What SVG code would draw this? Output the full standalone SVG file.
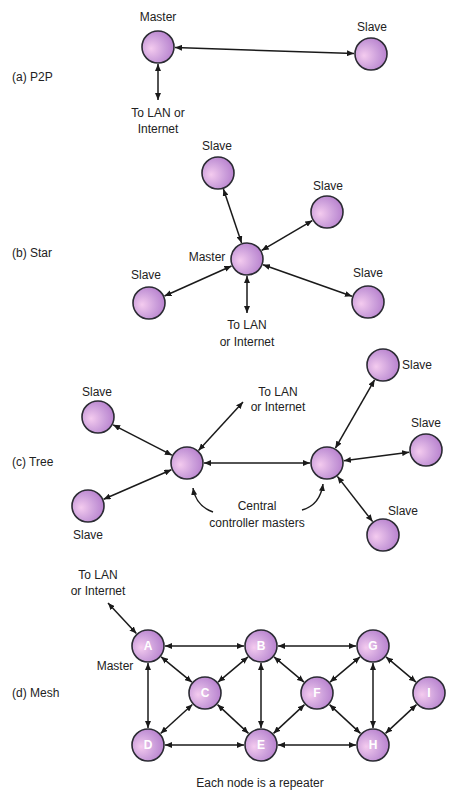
<svg xmlns="http://www.w3.org/2000/svg" width="476" height="797" viewBox="0 0 476 797">
<defs>
<radialGradient id="ball" cx="0.38" cy="0.55" r="0.7" fx="0.28" fy="0.55">
<stop offset="0" stop-color="#f4cbef"/>
<stop offset="0.55" stop-color="#cc9fdb"/>
<stop offset="1" stop-color="#b37acb"/>
</radialGradient>
<marker id="ah" viewBox="0 0 10 10" refX="10" refY="5" markerWidth="7" markerHeight="6" markerUnits="userSpaceOnUse" orient="auto-start-reverse" preserveAspectRatio="none">
<path d="M0,0 L10,5 L0,10 z" fill="#1a1a1a"/>
</marker>
</defs>
<style>
.n{fill:url(#ball);stroke:#2b2b33;stroke-width:1.6}
.c{stroke:#1a1a1a;stroke-width:1.5;fill:none;marker-start:url(#ah);marker-end:url(#ah)}
.s{stroke:#1a1a1a;stroke-width:1.5;fill:none;marker-end:url(#ah)}
.t{font-family:"Liberation Sans",Arial,sans-serif;font-size:12px;fill:#222;text-anchor:middle}
.h{font-family:"Liberation Sans",Arial,sans-serif;font-size:12px;fill:#222}
.l{font-family:"Liberation Sans",Arial,sans-serif;font-size:12px;font-weight:bold;fill:#fff;text-anchor:middle}
</style>

<g id="connectors">
<!-- (a) -->
<line class="c" x1="175" y1="47.6" x2="354" y2="53.4"/>
<line class="c" x1="158" y1="64" x2="158" y2="100"/>
<!-- (b) -->
<line class="c" x1="241.6" y1="242.9" x2="223.4" y2="189.1"/>
<line class="c" x1="261.7" y1="250.4" x2="312.3" y2="220.6"/>
<line class="c" x1="231.5" y1="266" x2="164.5" y2="296"/>
<line class="c" x1="263" y1="264.7" x2="352" y2="296.3"/>
<line class="c" x1="247" y1="276" x2="247" y2="313"/>
<!-- (c) -->
<line class="c" x1="204" y1="463" x2="310" y2="463"/>
<line class="c" x1="171.9" y1="455.2" x2="113.1" y2="424.8"/>
<line class="c" x1="171.4" y1="469.8" x2="103.6" y2="499.2"/>
<line class="c" x1="198.5" y1="450.5" x2="243" y2="402"/>
<line class="c" x1="335.4" y1="448.2" x2="374.6" y2="379.8"/>
<line class="c" x1="343.9" y1="460.8" x2="409.1" y2="452.2"/>
<line class="c" x1="337.4" y1="476.4" x2="372.6" y2="521.6"/>
<path class="s" d="M213,512 Q196,506 193,488"/>
<path class="s" d="M302,510 Q320,505 323,484"/>
<!-- (d) -->
<line class="c" x1="108" y1="603" x2="136.4" y2="633.6"/>
<line class="c" x1="165" y1="646" x2="244" y2="646"/>
<line class="c" x1="278" y1="646" x2="356" y2="646"/>
<line class="c" x1="165" y1="745" x2="244" y2="745"/>
<line class="c" x1="278" y1="745" x2="356" y2="745"/>
<line class="c" x1="148" y1="663" x2="148" y2="728"/>
<line class="c" x1="261" y1="663" x2="261" y2="728"/>
<line class="c" x1="373" y1="663" x2="373" y2="728"/>
<line class="c" x1="161.1" y1="656.8" x2="191.9" y2="682.2"/>
<line class="c" x1="218" y1="682.1" x2="248" y2="656.9"/>
<line class="c" x1="192.4" y1="704.5" x2="160.6" y2="733.5"/>
<line class="c" x1="217.5" y1="704.6" x2="248.5" y2="733.4"/>
<line class="c" x1="274" y1="656.9" x2="304" y2="682.1"/>
<line class="c" x1="330" y1="682.1" x2="360" y2="656.9"/>
<line class="c" x1="304.5" y1="704.6" x2="273.5" y2="733.4"/>
<line class="c" x1="329.5" y1="704.6" x2="360.5" y2="733.4"/>
<line class="c" x1="386" y1="656.9" x2="416" y2="682.1"/>
<line class="c" x1="416.5" y1="704.6" x2="385.5" y2="733.4"/>
</g>

<!-- section labels -->
<text class="h" x="12" y="81">(a)  P2P</text>
<text class="h" x="12" y="257">(b)  Star</text>
<text class="h" x="12" y="466">(c)  Tree</text>
<text class="h" x="12" y="697">(d)  Mesh</text>

<!-- (a) -->
<g id="a-master"><circle class="n" cx="158" cy="47" r="16"/><text class="t" x="158" y="21">Master</text></g>
<g id="a-slave"><circle class="n" cx="371" cy="54" r="16"/><text class="t" x="372" y="31">Slave</text></g>
<g id="a-lan"><text class="t" x="158" y="117">To LAN or</text><text class="t" x="158" y="133">Internet</text></g>

<!-- (b) -->
<g id="b-master"><circle class="n" cx="247" cy="259" r="16"/><text class="t" x="207" y="261">Master</text></g>
<g id="b-slave1"><circle class="n" cx="218" cy="173" r="16"/><text class="t" x="217" y="150">Slave</text></g>
<g id="b-slave2"><circle class="n" cx="327" cy="212" r="16"/><text class="t" x="328" y="190">Slave</text></g>
<g id="b-slave3"><circle class="n" cx="149" cy="303" r="16"/><text class="t" x="146" y="279">Slave</text></g>
<g id="b-slave4"><circle class="n" cx="368" cy="302" r="16"/><text class="t" x="368" y="277">Slave</text></g>
<g id="b-lan"><text class="t" x="247" y="329">To LAN</text><text class="t" x="247" y="346">or Internet</text></g>

<!-- (c) -->
<g id="c-master1"><circle class="n" cx="187" cy="463" r="16"/></g>
<g id="c-master2"><circle class="n" cx="327" cy="463" r="16"/></g>
<g id="c-slave1"><circle class="n" cx="98" cy="417" r="16"/><text class="t" x="97" y="396">Slave</text></g>
<g id="c-slave2"><circle class="n" cx="88" cy="506" r="16"/><text class="t" x="88" y="539">Slave</text></g>
<g id="c-slave3"><circle class="n" cx="383" cy="365" r="16"/><text class="t" x="417" y="369">Slave</text></g>
<g id="c-slave4"><circle class="n" cx="426" cy="450" r="16"/><text class="t" x="426" y="427">Slave</text></g>
<g id="c-slave5"><circle class="n" cx="383" cy="535" r="16"/><text class="t" x="403" y="515">Slave</text></g>
<g id="c-lan"><text class="t" x="278" y="396">To LAN</text><text class="t" x="278" y="411">or Internet</text></g>
<g id="c-note"><text class="t" x="257" y="510">Central</text><text class="t" x="257" y="527">controller masters</text></g>

<!-- (d) -->
<g id="d-lan"><text class="t" x="98" y="579">To LAN</text><text class="t" x="98" y="595">or Internet</text></g>
<g id="node-A"><circle class="n" cx="148" cy="646" r="16"/><text class="l" x="148" y="650">A</text><text class="t" x="115" y="670">Master</text></g>
<g id="node-B"><circle class="n" cx="261" cy="646" r="16"/><text class="l" x="261" y="650">B</text></g>
<g id="node-G"><circle class="n" cx="373" cy="646" r="16"/><text class="l" x="373" y="650">G</text></g>
<g id="node-C"><circle class="n" cx="205" cy="693" r="16"/><text class="l" x="205" y="697">C</text></g>
<g id="node-F"><circle class="n" cx="317" cy="693" r="16"/><text class="l" x="317" y="697">F</text></g>
<g id="node-I"><circle class="n" cx="429" cy="693" r="16"/><text class="l" x="429" y="697">I</text></g>
<g id="node-D"><circle class="n" cx="148" cy="745" r="16"/><text class="l" x="148" y="749">D</text></g>
<g id="node-E"><circle class="n" cx="261" cy="745" r="16"/><text class="l" x="261" y="749">E</text></g>
<g id="node-H"><circle class="n" cx="373" cy="745" r="16"/><text class="l" x="373" y="749">H</text></g>
<text class="t" x="260" y="787">Each node is a repeater</text>
</svg>
